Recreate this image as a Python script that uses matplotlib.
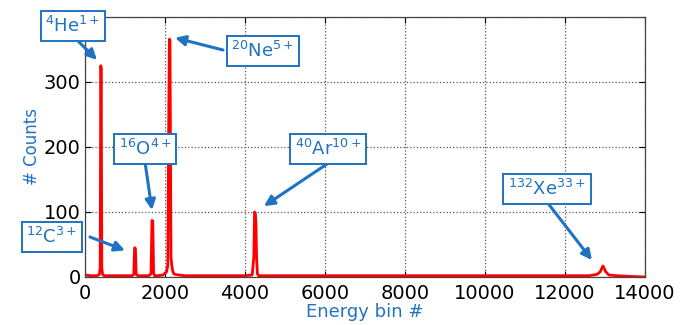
import matplotlib.pyplot as plt

# spectrum (energy bin, counts)
energy_bin = [0, 150, 300, 360, 380, 395, 405, 420, 440, 480, 600, 800, 1000,
              1180, 1220, 1240, 1260, 1280, 1320, 1450, 1600, 1650, 1675, 1695,
              1715, 1740, 1800, 1950, 2040, 2070, 2095, 2110, 2125, 2150, 2170,
              2190, 2220, 2260, 2350, 2500, 2700, 3000, 3500, 4000, 4180, 4220,
              4240, 4260, 4275, 4290, 4310, 4340, 4450, 5000, 6000, 7000, 8000,
              9000, 10000, 11000, 12000, 12300, 12600, 12800, 12880, 12950,
              13020, 13100, 13300, 13600, 14000]
counts = [3, 2, 2, 4, 15, 325, 320, 14, 4, 2, 2, 2, 2,
          2, 4, 45, 44, 4, 2, 2, 2, 5, 87, 86, 6, 2, 2, 3, 8, 18, 255, 366, 364, 30, 18,
          10, 5, 4, 3, 2, 2, 2, 2, 2, 3, 30, 100, 98, 80, 30, 5, 2, 2, 2, 2, 2, 2,
          2, 2, 2, 2, 2, 2, 4, 8, 17, 8, 3, 2, 1, 0]

ion_labels = [r'$^{4}$He$^{1+}$', r'$^{20}$Ne$^{5+}$', r'$^{16}$O$^{4+}$',
              r'$^{12}$C$^{3+}$', r'$^{40}$Ar$^{10+}$', r'$^{132}$Xe$^{33+}$']
# arrow tips in data units
tip_x = [300, 2250, 1675, 1000, 4475, 12675]
tip_y = [334, 368, 103, 41, 109, 26]
# box centres in figure pixels (from bottom-left)
box_px = [(73, 299), (263, 274), (145, 176), (52, 88), (328, 176), (547, 136)]
# arrow tails in figure pixels
tail_px = [(72, 290), (223, 275), (145, 163), (90, 88), (330, 163), (547, 123)]

BLUE = '#1f72c4'

plt.rcParams['font.family'] = ['DejaVu Sans']
plt.rcParams['mathtext.fontset'] = 'dejavusans'

fig = plt.figure(figsize=(6.95, 3.25), dpi=100)
ax = fig.add_axes([0.1223, 0.1477, 0.8057, 0.8])

ax.plot(energy_bin, counts, color='red', lw=2)
ax.set_xlim(0, 14000)
ax.set_ylim(0, 400)
ax.set_xticks(range(0, 14001, 2000))
ax.set_yticks([0, 100, 200, 300, 400])
ax.set_yticklabels(['0', '100', '200', '300', ''])
ax.tick_params(direction='in', top=True, right=True, labelsize=14, length=4, pad=3)
ax.tick_params(axis='x', pad=5)
ax.grid(True, linestyle=':', color='#555555', lw=0.9)
for s in ax.spines.values():
    s.set_color('#444444')
    s.set_linewidth(0.9)

ax.set_xlabel('Energy bin #', color=BLUE, fontsize=13, labelpad=0)
ax.set_ylabel('# Counts', color=BLUE, fontsize=12, labelpad=2)

for lab, tx, ty, bp, tp in zip(ion_labels, tip_x, tip_y, box_px, tail_px):
    ax.annotate('', xy=(tx, ty), xycoords='data', xytext=tp,
                textcoords='figure pixels',
                arrowprops=dict(arrowstyle='-|>,head_length=0.6,head_width=0.3',
                                color=BLUE, lw=2.2, shrinkA=0, shrinkB=0))
    fig.text(bp[0] / 695, bp[1] / 325, lab, color=BLUE, fontsize=13,
             ha='center', va='center', zorder=10,
             bbox=dict(boxstyle='square,pad=0.25', fc='white', ec=BLUE, lw=1.4))

fig.savefig('out.png', dpi=100)
